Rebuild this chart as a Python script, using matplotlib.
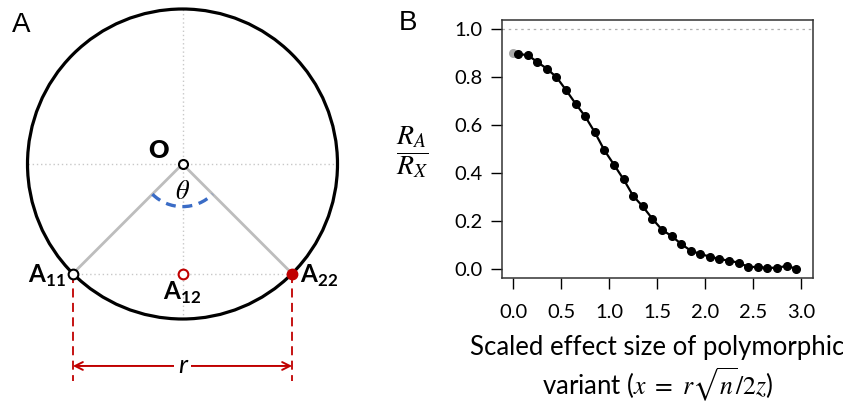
import numpy as np
import matplotlib
matplotlib.use("Agg")
from matplotlib import pyplot as plt
from matplotlib.patches import Circle, Arc

plt.rcParams['font.family'] = ['Lato', 'DejaVu Sans']
plt.rcParams['mathtext.fontset'] = 'stix'
plt.rcParams['mathtext.bf'] = 'Lato:bold'

# Panel A geometry (unit circle, angle between the two homozygotes)
radius = 1.0
theta_deg = 90.0

# Panel B data: scaled effect size vs R_A / R_X
x_first = [0.0]
y_first = [0.90]
x_vals = [0.05, 0.15, 0.25, 0.35, 0.45, 0.55, 0.65, 0.75, 0.85, 0.95,
          1.05, 1.15, 1.25, 1.35, 1.45, 1.55, 1.65, 1.75, 1.85, 1.95,
          2.05, 2.15, 2.25, 2.35, 2.45, 2.55, 2.65, 2.75, 2.85, 2.95]
y_vals = [0.897, 0.893, 0.864, 0.836, 0.801, 0.747, 0.690, 0.637, 0.571, 0.496,
          0.436, 0.375, 0.306, 0.262, 0.211, 0.165, 0.139, 0.106, 0.078, 0.064,
          0.053, 0.043, 0.036, 0.028, 0.010, 0.010, 0.006, 0.007, 0.014, 0.003]
x_ticks = [0.0, 0.5, 1.0, 1.5, 2.0, 2.5, 3.0]
y_ticks = [0.0, 0.2, 0.4, 0.6, 0.8, 1.0]

W, H = 843, 408
fig = plt.figure(figsize=(W / 100, H / 100), dpi=100)

# ---------------- Panel A ----------------
axA = fig.add_axes([0, 0, 380 / W, 1])
scale = 155.0  # pixels per unit
cx, cy = 182.5, 164.0
axA.set_xlim(-cx / scale, (380 - cx) / scale)
axA.set_ylim(-(H - cy) / scale, cy / scale)
axA.axis('off')

half = np.deg2rad(theta_deg / 2)
a11 = (-radius * np.sin(half), -radius * np.cos(half))
a22 = (radius * np.sin(half), -radius * np.cos(half))
a12 = (0.0, a11[1])

grid_kw = dict(color='#c8c8c8', lw=1.0, ls=(0, (1, 2)), zorder=1)
axA.plot([-radius, radius], [0, 0], **grid_kw)
axA.plot([0, 0], [-radius, radius], **grid_kw)
axA.plot([a11[0], a22[0]], [a11[1], a11[1]], **grid_kw)

axA.add_patch(Circle((0, 0), radius, fill=False, ec='black', lw=2.3, zorder=3))
axA.plot([a11[0], 0, a22[0]], [a11[1], 0, a22[1]], color='#bdbdbd', lw=2.0, zorder=2)
axA.add_patch(Arc((0, 0), 0.55, 0.55, theta1=270 - theta_deg / 2, theta2=270 + theta_deg / 2,
                  color='#3a6cc6', lw=2.4, ls=(0, (3, 2)), zorder=3))

red = '#c00000'
for px in (a11[0], a22[0]):
    axA.plot([px, px], [a11[1], -1.40], color=red, lw=1.3, ls=(0, (5, 3)), zorder=2)
axA.annotate('', xy=(a11[0], -1.303), xytext=(a22[0], -1.303),
             arrowprops=dict(arrowstyle='<->', color=red, lw=1.4,
                             shrinkA=0, shrinkB=0, mutation_scale=14))
axA.text(0, -1.303, 'r', fontsize=19, fontstyle='italic', ha='center', va='center',
         bbox=dict(fc='white', ec='none', pad=3), zorder=5)

axA.plot(0, 0, 'o', ms=6.5, mfc='white', mec='black', mew=1.5, zorder=6)
axA.plot(*a11, 'o', ms=7, mfc='white', mec='black', mew=1.5, zorder=6)
axA.plot(*a12, 'o', ms=7, mfc='white', mec=red, mew=1.5, zorder=6)
axA.plot(*a22, 'o', ms=7.5, mfc=red, mec=red, zorder=6)

lab_kw = dict(textcoords='offset points', fontsize=17.5, math_fontfamily='custom')
axA.annotate(r'$\mathbf{A}_{\mathbf{11}}$', a11, xytext=(-5, -6.5), ha='right', va='baseline', **lab_kw)
axA.annotate(r'$\mathbf{A}_{\mathbf{22}}$', a22, xytext=(6, -6.5), ha='left', va='baseline', **lab_kw)
axA.annotate(r'$\mathbf{A}_{\mathbf{12}}$', a12, xytext=(0, -19), ha='center', va='baseline', **lab_kw)
axA.annotate('O', (0, 0), xytext=(-10, 4), textcoords='offset points', fontsize=18,
             fontweight='heavy', ha='right', va='baseline')
axA.text(0, -0.18, r'$\theta$', fontsize=19, ha='center', va='center')
fig.text(21 / W, 1 - 25 / H, 'A', fontsize=20, family='Liberation Sans', ha='center', va='center')

# ---------------- Panel B ----------------
axB = fig.add_axes([501.7 / W, (H - 278) / H, 311.3 / W, 258 / H])
axB.axhline(1.0, color='#b0b0b0', lw=0.9, ls=(0, (2, 3)), zorder=1)
axB.plot(x_first, y_first, 'o', color='#aaaaaa', ms=5.5, zorder=2)
axB.plot(x_vals, y_vals, '-o', color='black', lw=1.6, ms=5.5, zorder=3)
axB.set_xlim(-0.121, 3.125)
axB.set_ylim(-0.036, 1.039)
axB.set_xticks(x_ticks)
axB.set_xticklabels([f'{t:.1f}' for t in x_ticks])
axB.set_yticks(y_ticks)
axB.set_yticklabels([f'{t:.1f}' for t in y_ticks])
axB.tick_params(axis='x', direction='out', length=8, width=1, pad=11, labelsize=14.5)
axB.tick_params(axis='y', direction='out', length=8, width=1, pad=6, labelsize=14.5)
for s in axB.spines.values():
    s.set_linewidth(1.1)
    s.set_color('#333333')
xc = (501.7 + 813) / 2 / W
fig.text(xc, 1 - 355 / H, 'Scaled effect size of polymorphic', fontsize=18.5,
         ha='center', va='baseline')
fig.text(xc, 1 - 395 / H, r'variant ($x\ =\ r\sqrt{n}/2z$)', fontsize=18.5,
         ha='center', va='baseline')
axB.set_ylabel(r'$\dfrac{R_A}{R_X}$', fontsize=20, rotation=0, ha='center', va='center')
axB.yaxis.set_label_coords(-0.288, 0.488)
fig.text(408 / W, 1 - 23 / H, 'B', fontsize=20, family='Liberation Sans', ha='center', va='center')

fig.savefig('out.png', dpi=100)
